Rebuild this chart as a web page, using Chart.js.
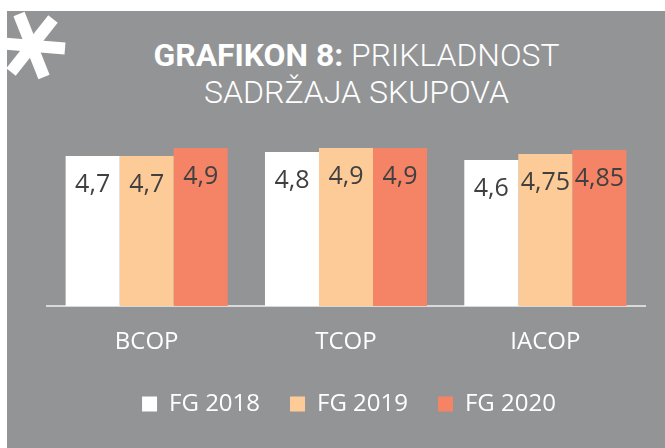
<!DOCTYPE html>
<html>
<head>
<meta charset="utf-8">
<script src="https://cdn.jsdelivr.net/npm/chart.js@4/dist/chart.umd.min.js"></script>
<style>
  html, body { margin: 0; padding: 0; background: #ffffff; }
  #wrap { position: relative; width: 665px; height: 448px; overflow: hidden; }
  #panel { position: absolute; left: 7px; top: 11px; right: 0; bottom: 0; background: #939496; }
  #star { position: absolute; left: 0; top: 0; }
  .title { position: absolute; left: 0; width: 714px; text-align: center; color: #fff;
           font-family: Roboto, sans-serif; font-size: 31px; font-weight: 300;
           white-space: nowrap; line-height: 31px; }
  .title b { font-weight: 700; }
  .title span.inner { display: inline-block; transform-origin: center; }
  #t1 { top: 40px; }
  #t2 { top: 77px; }
  #cv { position: absolute; left: 0; top: 0; }
</style>
</head>
<body>
<div id="wrap">
  <div id="panel"></div>
  <svg id="star" width="80" height="90">
    <g stroke="#fff" stroke-width="12" stroke-linecap="butt">
      <line x1="-4" y1="43" x2="65" y2="48.5"/>
      <line x1="53" y1="19" x2="11" y2="72"/>
      <line x1="19" y1="14" x2="44" y2="77"/>
    </g>
  </svg>
  <div class="title" id="t1"><span class="inner"><b>GRAFIKON 8:</b> PRIKLADNOST</span></div>
  <div class="title" id="t2"><span class="inner">SADRŽAJA SKUPOVA</span></div>
  <canvas id="cv" width="665" height="448"></canvas>
</div>
<script>
// data
const categories = ['BCOP', 'TCOP', 'IACOP'];
const seriesNames = ['FG 2018', 'FG 2019', 'FG 2020'];
const fg2018 = [4.7, 4.8, 4.6];
const fg2019 = [4.7, 4.9, 4.75];
const fg2020 = [4.9, 4.9, 4.85];

const colors = ['#ffffff', '#fccb98', '#f58466'];

// squeeze the title lines to the condensed look of the original
function fitTitle(id, w) {
    const el = document.querySelector('#' + id + ' .inner');
    const r = el.getBoundingClientRect().width;
    el.style.transform = 'scaleX(' + (w / r) + ')';
}
fitTitle('t1', 406);
fitTitle('t2', 305);

// value labels inside the top of each bar
const barLabels = {
    id: 'barLabels',
    afterDatasetsDraw(chart) {
        const ctx = chart.ctx;
        ctx.save();
        ctx.font = '25px "Open Sans", sans-serif';
        ctx.fillStyle = '#404040';
        ctx.textAlign = 'center';
        ctx.textBaseline = 'middle';
        chart.data.datasets.forEach(function (ds, i) {
            chart.getDatasetMeta(i).data.forEach(function (bar, j) {
                let txt = ds.data[j].toString().replace('.', ',');
                ctx.fillText(txt, bar.x, bar.y + 29);
            });
        });
        ctx.restore();
    }
};

// nudge the legend a little to the right, as in the original
const legendShift = {
    id: 'legendShift',
    afterLayout(chart) {
        chart.legend.left += 3;
        chart.legend.right += 3;
    }
};

new Chart(document.getElementById('cv'), {
    type: 'bar',
    plugins: [barLabels, legendShift],
    data: {
        labels: categories,
        datasets: [
            { label: seriesNames[0], data: fg2018, backgroundColor: colors[0] },
            { label: seriesNames[1], data: fg2019, backgroundColor: colors[1] },
            { label: seriesNames[2], data: fg2020, backgroundColor: colors[2] }
        ]
    },
    options: {
        responsive: false,
        animation: false,
        layout: {
            padding: { left: 47, right: 20, top: 140, bottom: 22 }
        },
        datasets: {
            bar: { categoryPercentage: 0.813, barPercentage: 1, borderWidth: 0 }
        },
        scales: {
            y: {
                display: false,
                min: 0.95,
                max: 5.1
            },
            x: {
                grid: { display: false },
                border: { display: true, color: '#d9d9d9', width: 2 },
                ticks: {
                    color: '#ffffff',
                    padding: 14,
                    font: { family: '"Open Sans", sans-serif', size: 24 }
                },
                afterFit: function (scale) {
                    scale.height = 56;
                }
            }
        },
        plugins: {
            legend: {
                position: 'bottom',
                labels: {
                    color: '#ffffff',
                    boxWidth: 15,
                    boxHeight: 15,
                    padding: 30,
                    font: { family: '"Open Sans", sans-serif', size: 24 }
                }
            },
            tooltip: { enabled: false }
        }
    }
});
</script>
</body>
</html>
